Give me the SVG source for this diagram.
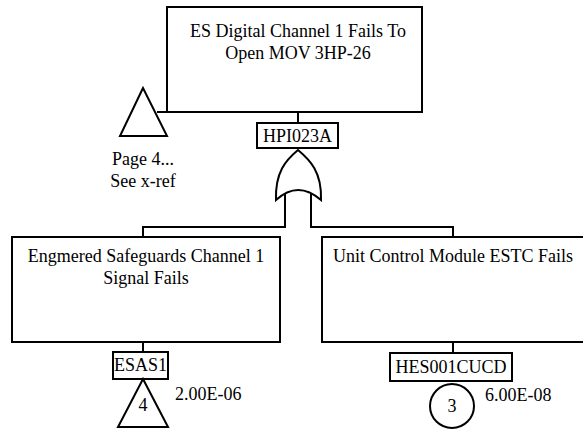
<svg xmlns="http://www.w3.org/2000/svg" width="583" height="430" viewBox="0 0 583 430">
  <style>
    .box { fill: #ffffff; stroke: #000000; stroke-width: 2; }
    .line { fill: none; stroke: #000000; stroke-width: 2; }
    .t { font-family: "Liberation Serif", "Times New Roman", serif; font-size: 18px; fill: #000000; text-anchor: middle; }
  </style>
  <rect x="0" y="0" width="583" height="430" fill="#ffffff"/>

  <!-- connectors -->
  <g id="connectors">
    <path class="line" d="M298 112 V123"/>
    <path class="line" d="M157 112 H167"/>
    <path class="line" d="M285 192 V227 H143 V237"/>
    <path class="line" d="M311 192 V227 H453 V237"/>
    <path class="line" d="M143 342 V352"/>
    <path class="line" d="M453 342 V353"/>
  </g>

  <!-- top event -->
  <g id="top-event">
    <rect class="box" x="167" y="7" width="255" height="105"/>
    <text class="t" x="298" y="37">ES Digital Channel 1 Fails To</text>
    <text class="t" x="298" y="59">Open MOV 3HP-26</text>
  </g>

  <!-- transfer to page 4 -->
  <g id="transfer-page4">
    <polygon class="box" points="143,88 120,136 167,136"/>
    <text class="t" x="143" y="165">Page 4...</text>
    <text class="t" x="143" y="187">See x-ref</text>
  </g>

  <!-- gate label and OR gate -->
  <g id="gate-HPI023A">
    <rect class="box" x="257" y="123" width="81" height="25"/>
    <text class="t" x="297.5" y="142">HPI023A</text>
    <path class="box" d="M298 150 C286 160 275 172 276 200 Q298 180 321 200 C322 172 310 160 298 150 Z"/>
  </g>

  <!-- left branch -->
  <g id="event-ESAS1">
    <rect class="box" x="12" y="237" width="268" height="105"/>
    <text class="t" x="146" y="262">Engmered Safeguards Channel 1</text>
    <text class="t" x="146" y="284">Signal Fails</text>
    <rect class="box" x="113" y="352" width="55" height="27"/>
    <text class="t" x="140.5" y="371">ESAS1</text>
    <polygon class="box" points="143,379 118,427 168,427"/>
    <text class="t" x="143" y="411">4</text>
    <text class="t" x="175" y="400" style="text-anchor:start">2.00E-06</text>
  </g>

  <!-- right branch -->
  <g id="event-HES001CUCD">
    <rect class="box" x="322" y="237" width="265" height="105"/>
    <text class="t" x="453" y="262">Unit Control Module ESTC Fails</text>
    <rect class="box" x="390" y="353" width="122" height="28"/>
    <text class="t" x="451" y="373">HES001CUCD</text>
    <circle class="box" cx="452" cy="406" r="22"/>
    <text class="t" x="452" y="412">3</text>
    <text class="t" x="485" y="401" style="text-anchor:start">6.00E-08</text>
  </g>
</svg>
